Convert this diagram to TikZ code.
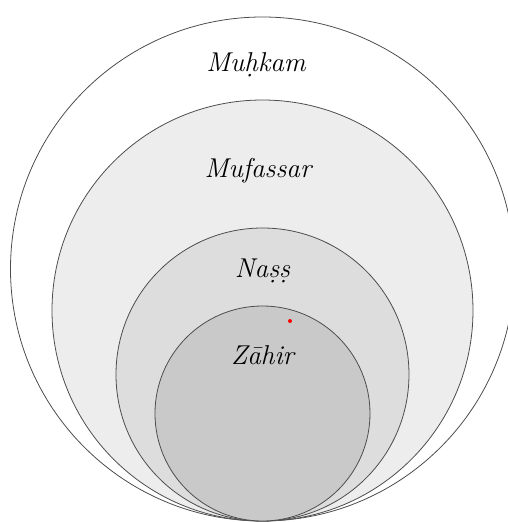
\documentclass[tikz,border=0pt]{standalone}
\definecolor{ringA}{gray}{1.0}
\definecolor{ringB}{gray}{0.93}
\definecolor{ringC}{gray}{0.865}
\definecolor{ringD}{gray}{0.79}
\begin{document}
\begin{tikzpicture}[x=0.02cm, y=0.02cm,
    ring/.style={draw=black!70, line width=0.45pt},
    lbl/.style={anchor=base, font=\fontsize{15.5}{18}\selectfont\itshape}]

  \useasboundingbox (-262.5,-1) rectangle (245.5,521);

  \draw[ring, fill=ringA] (0,252) circle (252);
  \draw[ring, fill=ringB] (0,210.5) circle (210.5);
  \draw[ring, fill=ringC] (0,146.5) circle (146.5);
  \draw[ring, fill=ringD] (0,107.5) circle (107.5);

  \node[lbl] (muhkam) at (-6.5,450) {Muḥkam};
  \node[lbl] (mufassar) at (-4.5,344) {Mufassar};
  \node[lbl] (nass) at (0,244) {Naṣṣ};
  \node[lbl] (zahir) at (0,156) {Zāhir};

  \fill[red] (27.5,200) circle (2);
  \end{tikzpicture}
\end{document}
